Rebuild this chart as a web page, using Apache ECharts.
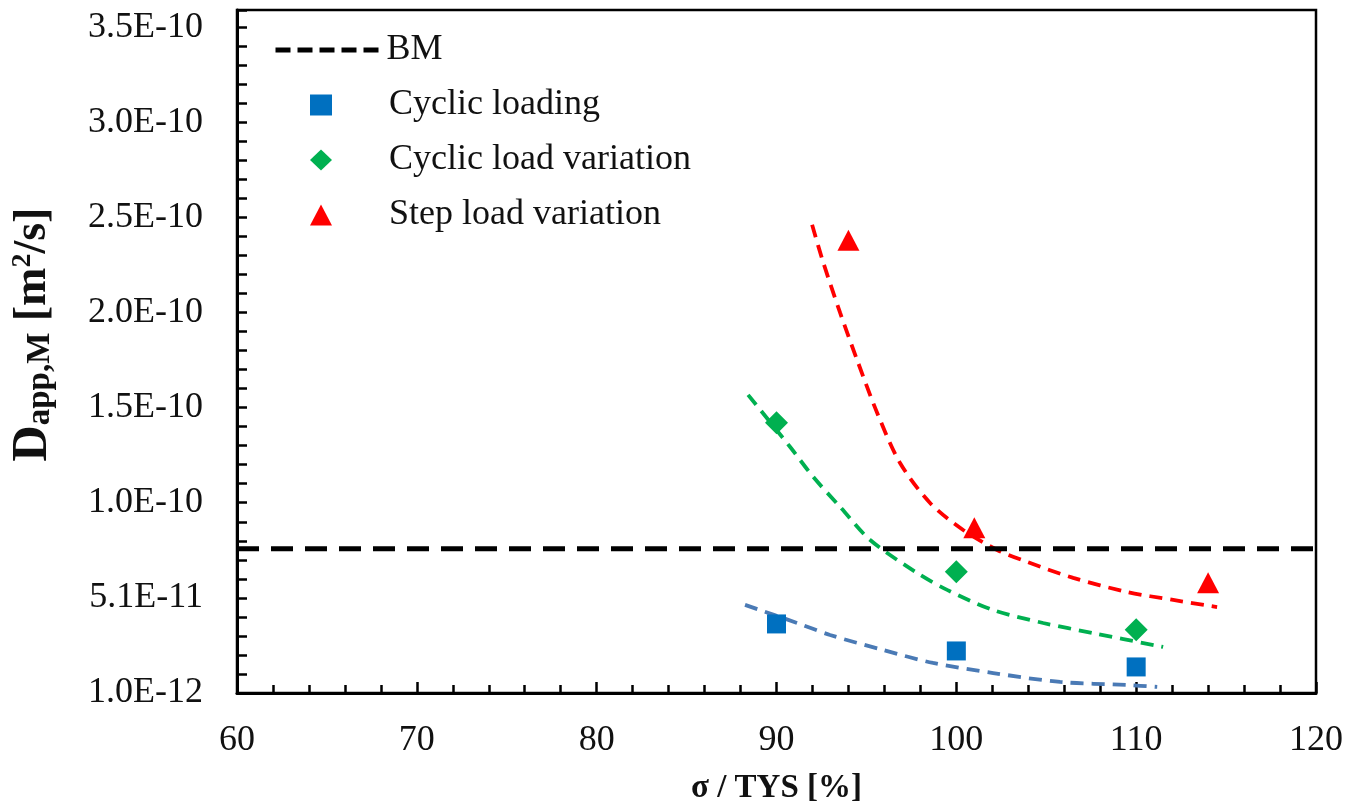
<!DOCTYPE html>
<html><head><meta charset="utf-8">
<script src="https://cdn.jsdelivr.net/npm/echarts@6/dist/echarts.min.js"></script>
<style>html,body{margin:0;padding:0;background:#fff}#c{width:1352px;height:806px}</style>
</head><body><div id="c"></div>
<script>
// ---- data (D in m^2/s) ----
const xLoad = [90, 100, 110];
const cyclicLoading = [3.73e-11, 2.31e-11, 1.47e-11];
const cyclicLoadVariation = [1.43e-10, 6.47e-11, 3.42e-11];
const stepLoadX = [94, 101, 114];
const stepLoadVariation = [2.39e-10, 8.78e-11, 5.89e-11];
const bmX = [60, 120];
const bmValue = 7.68e-11;
// trend lines
const trendBlueX = [88.25, 91.15, 92.98, 95.93, 98.71, 102.05, 105.77, 109.5, 111.17];
const trendBlueY = [4.73e-11, 3.78e-11, 3.15e-11, 2.36e-11, 1.68e-11, 1.15e-11, 0.68e-11, 0.52e-11, 0.42e-11];
const trendGreenX = [88.42, 90.76, 92.04, 93.54, 95.21, 97.82, 99.49, 102.05, 104.83, 107.61, 111.5];
const trendGreenY = [1.577e-10, 1.303e-10, 1.146e-10, 9.88e-11, 8.14e-11, 6.41e-11, 5.52e-11, 4.46e-11, 3.78e-11, 3.25e-11, 2.52e-11];
const trendRedX = [91.98, 92.59, 93.54, 94.48, 95.6, 96.87, 98.54, 100.38, 102.27, 103.94, 106.5, 109.5, 112.06, 114.5];
const trendRedY = [2.471e-10, 2.276e-10, 2.008e-10, 1.761e-10, 1.482e-10, 1.219e-10, 1.009e-10, 8.67e-11, 7.62e-11, 6.99e-11, 6.15e-11, 5.41e-11, 4.99e-11, 4.62e-11];
const yTickLabels = ['1.0E-12', '5.1E-11', '1.0E-10', '1.5E-10', '2.0E-10', '2.5E-10', '3.0E-10', '3.5E-10'];
const seriesNames = ['BM', 'Cyclic loading', 'Cyclic load variation', 'Step load variation'];

const UNIT = 1e-11; // plot in units of 1e-11 m^2/s
const pairs = (xs, ys) => xs.map((x, i) => [x, ys[i] / UNIT]);
const FONT = '"Liberation Serif", "Times New Roman", serif';
const FS = 36;

const chart = echarts.init(document.getElementById('c'), null, { renderer: 'canvas' });
const trendStyle = (c) => ({ color: c, width: 3.8, type: [13, 8] });

chart.setOption({
  animation: false,
  backgroundColor: '#fff',
  grid: { left: 237, right: 36, top: 10, bottom: 113, show: true, borderColor: '#000', borderWidth: 2.5,
    containLabel: false, outerBoundsMode: 'none' },
  legend: [
    {
      data: [seriesNames[0]], orient: 'vertical', left: 268, top: 27,
      itemWidth: 106, itemHeight: 20, selectedMode: false,
      itemStyle: { color: 'rgba(0,0,0,0)', opacity: 0, borderWidth: 0 },
      lineStyle: { type: [15, 7], width: 5, color: '#000' },
      textStyle: { fontFamily: FONT, fontSize: FS, color: '#111' }
    },
    {
      data: seriesNames.slice(1), orient: 'vertical', left: 305, top: 82, itemGap: 19,
      itemWidth: 22, itemHeight: 21, selectedMode: false,
      itemStyle: { opacity: 1 },
      formatter: (n) => '{s|}{t|' + n + '}',
      textStyle: { fontFamily: FONT, fontSize: FS, color: '#111',
        rich: { s: { width: 52 }, t: { fontFamily: FONT, fontSize: FS, color: '#111' } } }
    }
  ],
  xAxis: {
    type: 'value', min: 60, max: 120, interval: 10,
    name: 'σ / TYS [%]', nameLocation: 'middle', nameGap: 79,
    nameTextStyle: { fontFamily: FONT, fontSize: 33, fontWeight: 'bold', color: '#111' },
    axisLine: { show: true, lineStyle: { color: '#000', width: 3 } },
    axisTick: { show: true, inside: true, length: 11, lineStyle: { color: '#000', width: 2.5 } },
    minorTick: { show: true, splitNumber: 5, length: 8, lineStyle: { color: '#000', width: 2.5 } },
    axisLabel: { fontFamily: FONT, fontSize: FS, color: '#111', margin: 30 },
    splitLine: { show: false }, minorSplitLine: { show: false }
  },
  yAxis: {
    type: 'value', min: 0.1, max: 36, interval: 1,
    name: '{D|D}{sub|app,M}{b| [m}{sup|2}{b|/s]}', nameLocation: 'middle', nameGap: 180,
    nameTextStyle: {
      fontFamily: FONT, fontWeight: 'bold', color: '#111', padding: [0, 0, 0, 34],
      rich: {
        D: { fontFamily: FONT, fontSize: 50, fontWeight: 'bold', lineHeight: 48, color: '#111' },
        b: { fontFamily: FONT, fontSize: 46, fontWeight: 'bold', lineHeight: 48, color: '#111' },
        sub: { fontFamily: FONT, fontSize: 33, fontWeight: 'bold', lineHeight: 22, verticalAlign: 'bottom', color: '#111' },
        sup: { fontFamily: FONT, fontSize: 28, fontWeight: 'bold', lineHeight: 22, verticalAlign: 'top', color: '#111' }
      }
    },
    axisLine: { show: true, lineStyle: { color: '#000', width: 3 } },
    axisTick: { show: true, inside: true, length: 10, lineStyle: { color: '#000', width: 2.5 } },
    axisLabel: {
      fontFamily: FONT, fontSize: FS, color: '#111', margin: 34,
      formatter: (v) => {
        const k = Math.round(v - 0.1);
        if (k % 5 === 0 && k / 5 < yTickLabels.length && Math.abs(v - 0.1 - k) < 1e-6) return yTickLabels[k / 5];
        return '';
      }
    },
    splitLine: { show: false }
  },
  series: [
    { name: 'BM', type: 'line', data: bmX.map(x => [x, bmValue / UNIT]), symbol: 'none',
      lineStyle: { color: '#000', width: 5, type: [22, 12] }, itemStyle: { color: '#000' }, z: 3, silent: true },
    { name: 'trend-cl', type: 'line', data: pairs(trendBlueX, trendBlueY), symbol: 'none', smooth: 0.3,
      lineStyle: trendStyle('#4a7ab5'), z: 2, silent: true },
    { name: 'trend-clv', type: 'line', data: pairs(trendGreenX, trendGreenY), symbol: 'none', smooth: 0.3,
      lineStyle: trendStyle('#00b050'), z: 2, silent: true },
    { name: 'trend-slv', type: 'line', data: pairs(trendRedX, trendRedY), symbol: 'none', smooth: 0.3,
      lineStyle: trendStyle('#ff0000'), z: 2, silent: true },
    { name: 'Cyclic loading', type: 'scatter', data: pairs(xLoad, cyclicLoading), symbol: 'rect', symbolSize: 19,
      itemStyle: { color: '#0070c0', opacity: 1 }, z: 5 },
    { name: 'Cyclic load variation', type: 'scatter', data: pairs(xLoad, cyclicLoadVariation), symbol: 'diamond', symbolSize: 23,
      itemStyle: { color: '#00b050', opacity: 1 }, z: 5 },
    { name: 'Step load variation', type: 'scatter', data: pairs(stepLoadX, stepLoadVariation), symbol: 'triangle', symbolSize: [22, 21],
      itemStyle: { color: '#ff0000', opacity: 1 }, z: 5 }
  ]
});
</script></body></html>
